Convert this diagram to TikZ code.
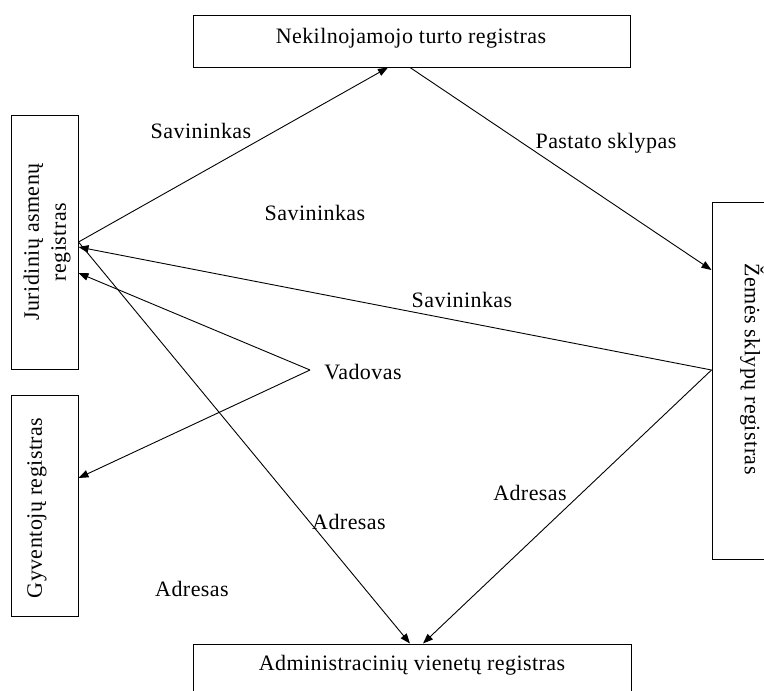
\documentclass[tikz,border=0pt]{standalone}
\usepackage{fontspec}
\setmainfont{Liberation Serif}[LetterSpace=2]
\usetikzlibrary{arrows.meta,calc}
\begin{document}
\begin{tikzpicture}[x=1pt,y=-1pt,
  every node/.style={font=\fontsize{22}{27}\selectfont, inner sep=0pt},
  regbox/.style={draw, line width=1pt, rectangle},
  link/.style={line width=0.9pt, -{Triangle[length=10pt,width=7.5pt]}},
  lbl/.style={anchor=center}]
\useasboundingbox (0,0) rectangle (764,691);
\clip (0,0) rectangle (764,691);

% registers
\node[regbox, minimum width=437pt, minimum height=52pt] (top) at (411.5,41) {};
\node at (411,38) {Nekilnojamojo turto registras};

\node[regbox, minimum width=67pt, minimum height=254pt] (jur) at (44.5,242) {};
\node[rotate=90, align=center] at (47,242) {Juridinių asmenų\\registras};

\node[regbox, minimum width=67pt, minimum height=221pt] (gyv) at (44.5,505.5) {};
\node[rotate=90] at (37,508) {Gyventojų registras};

\node[regbox, minimum width=80pt, minimum height=357pt] (zem) at (752,380.5) {};
\node[rotate=-90] at (752,369) {Žemės sklypų registras};

\node[regbox, minimum width=438pt, minimum height=60pt] (adm) at (412,674) {};
\node at (412,665) {Administracinių vienetų registras};

% relations
\draw[link] (jur.east) -- ([xshift=-23.5pt]top.south);
\draw[link] ([xshift=-1.5pt]top.south) -- ([yshift=110.5pt]zem.west);
\draw[link] ([yshift=10.5pt]zem.west) -- ([yshift=-5pt]jur.east);
\draw[link] (jur.east) -- ([xshift=-2pt]adm.north);
\draw[link] ([yshift=10.5pt]zem.west) -- ([xshift=11pt]adm.north);

\coordinate (vad) at (310,370);
\draw[link] (vad) -- ([yshift=-31pt]jur.east);
\draw[link] (vad) -- ([yshift=27.5pt]gyv.east);

% labels
\node[lbl] at (201,131) {Savininkas};
\node[lbl] at (606,143) {Pastato sklypas};
\node[lbl] at (315,213) {Savininkas};
\node[lbl] at (462,300) {Savininkas};
\node[lbl] at (363,372) {Vadovas};
\node[lbl] at (349,522) {Adresas};
\node[lbl] at (530,493) {Adresas};
\node[lbl] at (192,589) {Adresas};
\end{tikzpicture}
\end{document}
